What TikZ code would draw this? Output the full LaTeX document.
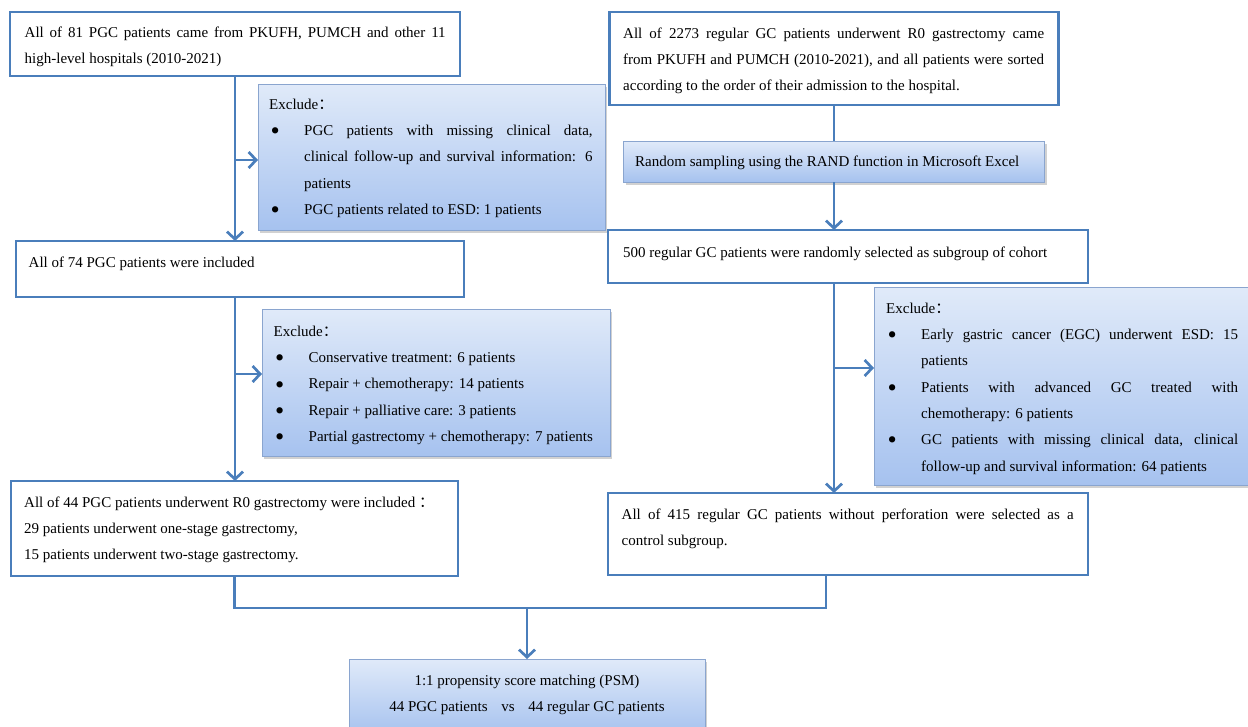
\documentclass[tikz,border=0pt]{standalone}
\usepackage{fontspec}
\setmainfont{Liberation Serif}
\newfontfamily\cjkfont{Noto Sans CJK SC}
\usepackage{graphicx}
\usetikzlibrary{arrows.meta,shadows}
\definecolor{edge}{HTML}{4A7EBB}
\definecolor{gtop}{HTML}{E0EAF9}
\definecolor{gbot}{HTML}{A6C2EF}
\definecolor{gedge}{HTML}{8AA5CF}
\newcommand{\fcolon}{{\cjkfont ：}}
\newcommand{\fst}{\rule{0pt}{14pt}}
\newcommand{\bulglyph}{\raisebox{-4.2pt}{\scalebox{1.75}{\textbullet}}}
\newcommand{\bitem}[1]{\hspace*{1.5pt}\makebox[33.5pt][l]{\bulglyph}#1}
\newcommand{\cont}[1]{\hspace*{35pt}#1}
\newcommand{\js}[2]{\makebox[#1][s]{#2}}
\tikzset{
 box/.style={draw=edge, line width=2.5pt, fill=white, inner sep=0pt, outer sep=0pt},
 gbox/.style={draw=gedge, line width=0.8pt, top color=gtop, bottom color=gbot, inner sep=0pt, outer sep=0pt,
   drop shadow={opacity=0.3, shadow xshift=2pt, shadow yshift=-2.5pt, fill=black!60}},
 txt/.style={anchor=north west, inner sep=0pt, align=left, font=\fontsize{15}{26.3}\selectfont},
 ln/.style={draw=edge, line width=2.7pt},
 arr/.style={ln, -{Straight Barb[length=7.5pt,width=16pt]}},
}
\begin{document}
\begin{tikzpicture}[x=1pt,y=-1pt]
\useasboundingbox (0,0) rectangle (1248,726);
% boxes
\node[box, minimum width=450pt, minimum height=64pt] (A) at (235,44) {};
\node[gbox, minimum width=347pt, minimum height=146pt] (X1) at (431.5,157) {};
\node[box, minimum width=448pt, minimum height=56pt] (B) at (240,269) {};
\node[gbox, minimum width=348pt, minimum height=147pt] (X2) at (436,382.5) {};
\node[box, minimum width=447pt, minimum height=95pt] (C) at (234.5,528.5) {};
\node[box, minimum width=449pt, minimum height=93pt] (D) at (834,58.5) {};
\node[gbox, minimum width=421pt, minimum height=41pt] (R) at (834,161.5) {};
\node[box, minimum width=480pt, minimum height=53pt] (E) at (848,256.5) {};
\node[gbox, minimum width=386pt, minimum height=198pt] (X3) at (1067,386) {};
\node[box, minimum width=480pt, minimum height=82pt] (F) at (848,534) {};
\node[gbox, minimum width=356pt, minimum height=76pt] (P) at (527,697) {};
% texts (node y = first baseline - 14)
\node[txt] (tA) at (24.5,23) {\fst\js{421pt}{All of 81 PGC patients came from PKUFH, PUMCH and other 11}\\high-level hospitals (2010-2021)};
\node[txt] (tX1) at (269,95) {\fst Exclude\fcolon\\
\bitem{\js{288.5pt}{PGC patients with missing clinical data,}}\\
\cont{\js{288.5pt}{clinical follow-up and survival information: 6}}\\
\cont{patients}\\
\bitem{PGC patients related to ESD: 1 patients}};
\node[txt] (tB) at (28.5,253) {\fst All of 74 PGC patients were included};
\node[txt] (tX2) at (273.5,322) {\fst Exclude\fcolon\\
\bitem{Conservative treatment: 6 patients}\\
\bitem{Repair + chemotherapy: 14 patients}\\
\bitem{Repair + palliative care: 3 patients}\\
\bitem{Partial gastrectomy + chemotherapy: 7 patients}};
\node[txt] (tC) at (24,493) {\fst All of 44 PGC patients underwent R0 gastrectomy were included \fcolon\\
29 patients underwent one-stage gastrectomy,\\
15 patients underwent two-stage gastrectomy.};
\node[txt] (tD) at (623,24) {\fst\js{421pt}{All of 2273 regular GC patients underwent R0 gastrectomy came}\\
\js{421pt}{from PKUFH and PUMCH (2010-2021), and all patients were sorted}\\
according to the order of their admission to the hospital.};
\node[txt] (tR) at (635,152) {\fst Random sampling using the RAND function in Microsoft Excel};
\node[txt] (tE) at (623,243) {\fst 500 regular GC patients were randomly selected as subgroup of cohort};
\node[txt] (tX3) at (886,299) {\fst Exclude\fcolon\\
\bitem{\js{317pt}{Early gastric cancer (EGC) underwent ESD: 15}}\\
\cont{patients}\\
\bitem{\js{317pt}{Patients with advanced GC treated with}}\\
\cont{chemotherapy: 6 patients}\\
\bitem{\js{317pt}{GC patients with missing clinical data, clinical}}\\
\cont{follow-up and survival information: 64 patients}};
\node[txt] (tF) at (621.5,505) {\fst\js{452pt}{All of 415 regular GC patients without perforation were selected as a}\\
control subgroup.};
\node[txt, anchor=north, align=center] (tP) at (527,671) {\fst 1:1 propensity score matching (PSM)\\
44 PGC patients\hspace{10pt} vs \hspace{10pt}44 regular GC patients};
% junction coordinates
\coordinate (e1) at (258,160);
\coordinate (e2) at (262,374);
\coordinate (e3) at (874,368);
\coordinate (jl) at (234.5,608);
\coordinate (jr) at (826,608);
% connectors left
\draw[arr] (A.south) -- (A.south |- B.north);
\draw[arr] (e1 -| A.south) -- (e1);
\draw[arr] (B.south -| A.south) -- (C.north -| A.south);
\draw[arr] (e2 -| A.south) -- (e2);
% connectors right
\draw[ln] (D.south) -- (R.north);
\draw[arr] (R.south) -- (R.south |- E.north);
\draw[arr] (E.south -| R.south) -- (F.north -| R.south);
\draw[arr] (e3 -| R.south) -- (e3);
% bottom
\draw[ln] (C.south -| jl) -- (jl) -- (jr) -- (jr |- F.south);
\draw[arr] (P.north |- jl) -- (P.north);
\end{tikzpicture}
\end{document}
